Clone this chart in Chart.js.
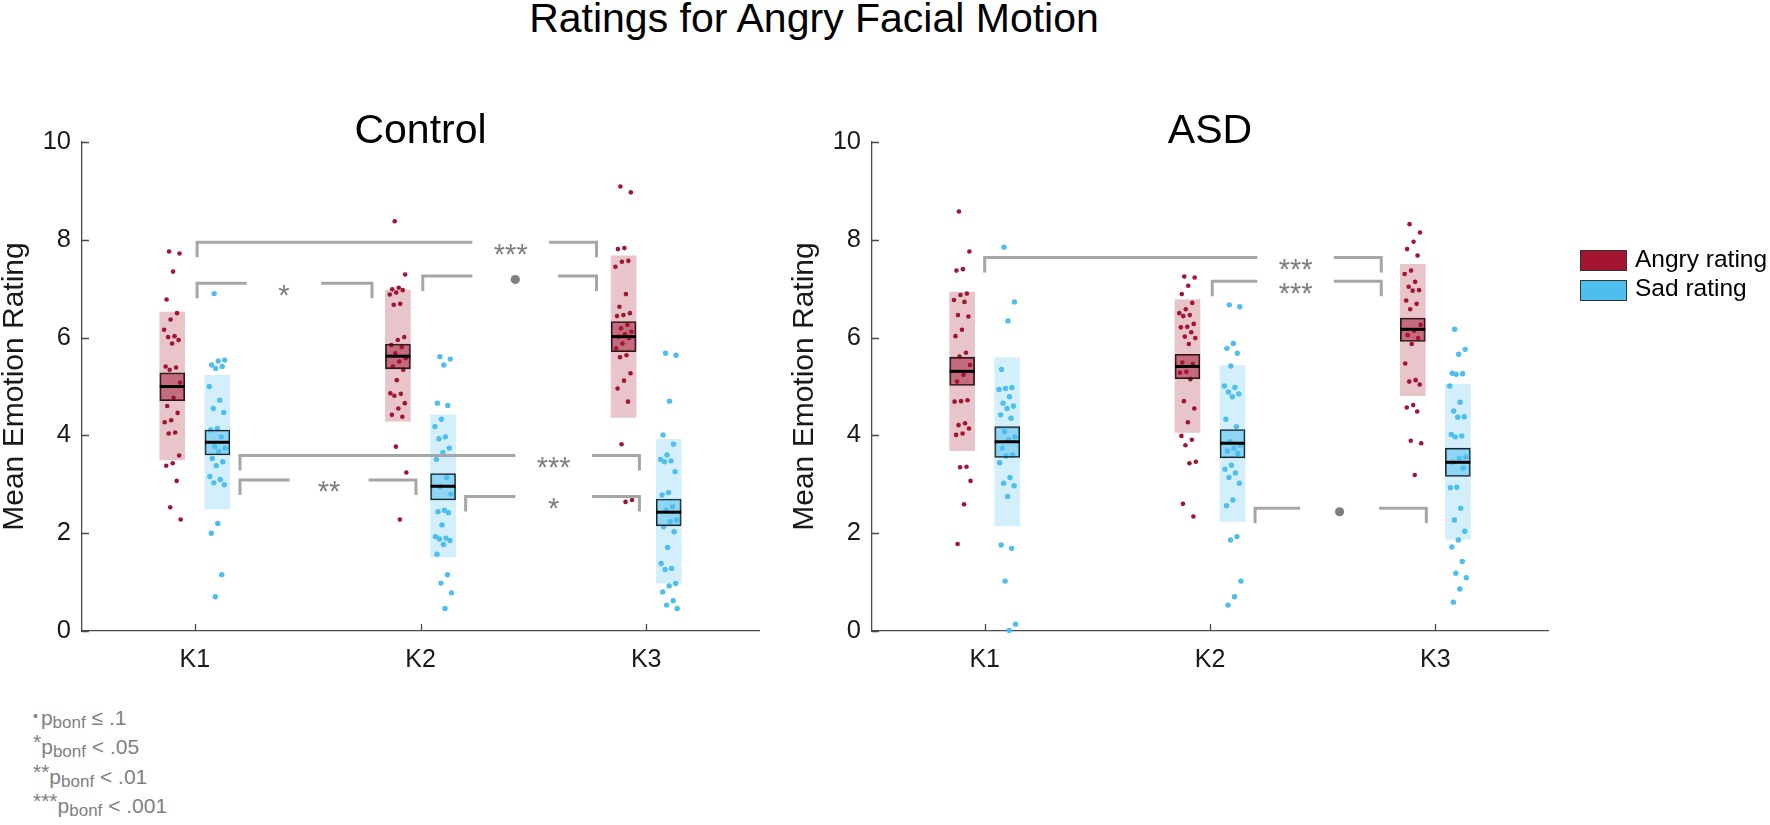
<!DOCTYPE html>
<html>
<head>
<meta charset="utf-8">
<script src="https://cdn.jsdelivr.net/npm/chart.js@4.4.1/dist/chart.umd.min.js"></script>
<style>
html,body{margin:0;padding:0;background:#fff;width:1770px;height:825px;overflow:hidden;font-family:'Liberation Sans',Arial,Helvetica,sans-serif;}
#title{position:absolute;left:0;width:1628px;top:-2px;text-align:center;font-size:41px;line-height:41px;color:#000;white-space:nowrap;}
canvas{position:absolute;top:0;}
#cL{left:0;}
#cR{left:790px;}
.lg{position:absolute;left:1580px;width:45px;height:19px;border:1px solid #333;}
.lgt{position:absolute;left:1635px;font-size:24.5px;line-height:24.5px;color:#000;white-space:nowrap;}
#fn{position:absolute;left:33px;top:703px;font-size:21px;line-height:29.3px;color:#808080;white-space:nowrap;}
#fn sub{font-size:17px;vertical-align:-3px;line-height:0;}
#fn sup{font-size:21px;vertical-align:5px;line-height:0;}
#fn .b{font-size:14px;vertical-align:4px;line-height:0;margin-right:3px;}
</style>
</head>
<body>
<div id="title">Ratings for Angry Facial Motion</div>
<canvas id="cL" width="800" height="700"></canvas>
<canvas id="cR" width="800" height="700"></canvas>

<div class="lg" style="top:250px;background:#A2142F"></div>
<div class="lgt" style="top:247px">Angry rating</div>
<div class="lg" style="top:280px;background:#4DBEEE"></div>
<div class="lgt" style="top:276px">Sad rating</div>

<div id="fn">
<div><span class="b">•</span>p<sub>bonf</sub> ≤ .1</div>
<div><sup>*</sup>p<sub>bonf</sub> &lt; .05</div>
<div><sup>**</sup>p<sub>bonf</sub> &lt; .01</div>
<div><sup>***</sup>p<sub>bonf</sub> &lt; .001</div>
</div>

<script>
// ---------------- data ----------------
const categories = ['K1', 'K2', 'K3'];
const yTicks = [0, 2, 4, 6, 8, 10];
const panelTitles = ['Control', 'ASD'];
const seriesNames = ['Angry rating', 'Sad rating'];

// Control: individual mean ratings per participant
const ctrlAngryK1 = [7.76,7.72,7.35,6.78,6.50,6.37,6.16,6.03,6.01,5.95,5.88,5.41,5.39,5.34,5.08,4.77,4.60,4.46,4.31,4.27,4.06,4.04,3.59,3.43,3.38,3.07,2.53,2.28];
const ctrlAngryK2 = [8.38,7.29,7.02,6.99,6.97,6.92,6.88,6.69,6.67,6.01,5.95,5.85,5.81,5.68,5.58,5.51,5.41,5.34,5.13,4.86,4.85,4.81,4.66,4.55,4.42,4.38,3.77,3.24,2.28];
const ctrlAngryK3 = [9.09,8.97,7.83,7.81,7.57,7.55,7.45,6.89,6.63,6.50,6.46,6.44,6.26,6.19,6.12,6.07,6.02,5.99,5.88,5.78,5.64,5.60,5.27,5.12,4.96,4.69,3.82,2.68,2.64];
const ctrlSadK1 = [6.90,5.54,5.52,5.44,5.41,5.37,5.00,4.72,4.55,4.47,4.14,4.11,3.97,3.77,3.74,3.67,3.53,3.46,3.38,3.16,3.10,3.03,2.99,2.20,2.00,1.15,0.70];
const ctrlSadK2 = [5.61,5.56,5.44,4.66,4.61,4.33,4.18,3.97,3.93,3.74,3.65,3.51,3.14,2.95,2.80,2.47,2.44,2.42,2.17,1.93,1.90,1.88,1.85,1.77,1.57,1.15,0.98,0.78,0.46];
const ctrlSadK3 = [5.68,5.64,4.70,4.01,3.82,3.60,3.51,3.48,3.46,3.26,2.83,2.78,2.54,2.47,2.27,2.24,2.13,2.03,1.71,1.38,1.28,1.26,0.97,0.92,0.80,0.62,0.53,0.46];

// ASD
const asdAngryK1 = [8.58,7.76,7.40,7.37,6.90,6.87,6.77,6.73,6.46,6.43,6.16,6.03,5.69,5.61,5.44,5.24,5.10,4.72,4.70,4.69,4.25,4.21,4.14,4.04,4.01,3.36,3.35,3.07,2.59,1.78];
const asdAngryK2 = [7.25,7.23,7.06,6.89,6.71,6.58,6.50,6.46,6.44,6.28,6.22,6.21,6.11,6.02,5.99,5.87,5.49,5.46,5.30,5.28,5.15,4.70,4.55,4.27,3.99,3.91,3.80,3.46,3.43,2.60,2.34];
const asdAngryK3 = [8.32,8.15,7.96,7.81,7.68,7.37,7.30,7.14,7.04,6.97,6.96,6.76,6.69,6.58,6.26,6.14,6.05,5.99,5.87,5.47,5.13,5.10,5.04,4.62,4.57,4.49,3.89,3.84,3.19];
const asdSadK1 = [7.85,6.73,6.34,5.35,4.98,4.96,4.94,4.79,4.66,4.60,4.55,4.42,4.35,4.08,3.97,3.91,3.74,3.60,3.58,3.44,3.14,3.02,2.97,2.75,1.76,1.69,1.02,0.14,0.01];
const asdSadK2 = [6.67,6.63,5.88,5.78,5.68,5.42,5.01,4.98,4.89,4.85,4.79,4.33,4.18,3.87,3.80,3.74,3.68,3.63,3.39,3.31,3.23,3.14,3.02,2.68,2.56,1.93,1.86,1.02,0.70,0.53];
const asdSadK3 = [6.17,5.76,5.66,5.27,5.26,5.25,5.01,4.68,4.50,4.38,4.37,4.02,3.99,3.97,3.56,3.53,3.45,3.33,2.94,2.93,2.51,2.27,2.04,1.86,1.72,1.42,1.18,1.09,0.86,0.59];

// group summary (mean, SEM range, SD range)
const ctrlAngryMean = [5.00, 5.62, 6.02];
const ctrlAngrySem  = [[4.71, 5.28], [5.36, 5.87], [5.71, 6.33]];
const ctrlAngrySd   = [[3.50, 6.52], [4.29, 6.97], [4.37, 7.67]];
const ctrlSadMean   = [3.86, 2.96, 2.43];
const ctrlSadSem    = [[3.60, 4.11], [2.68, 3.22], [2.15, 2.70]];
const ctrlSadSd     = [[2.49, 5.23], [1.51, 4.42], [0.98, 3.92]];

const asdAngryMean = [5.31, 5.41, 6.17];
const asdAngrySem  = [[5.02, 5.60], [5.16, 5.66], [5.92, 6.40]];
const asdAngrySd   = [[3.69, 6.93], [4.06, 6.78], [4.81, 7.50]];
const asdSadMean   = [3.87, 3.84, 3.45];
const asdSadSem    = [[3.55, 4.18], [3.54, 4.12], [3.16, 3.74]];
const asdSadSd     = [[2.15, 5.59], [2.24, 5.43], [1.88, 5.05]];

// significance brackets: [from, to, level, gapFrom, gapTo, label]
const ctrlBrackets = [
  [1.01, 2.78, 7.95, 2.23, 2.57, '***'],
  [1.01, 1.785, 7.11, 1.23, 1.56, '*'],
  [2.01, 2.78, 7.26, 2.23, 2.61, '•'],
  [1.20, 2.97, 3.59, 2.42, 2.76, '***'],
  [1.20, 1.98, 3.09, 1.42, 1.77, '**'],
  [2.20, 2.97, 2.75, 2.42, 2.76, '*']
];
const asdBrackets = [
  [1.00, 2.76, 7.64, 2.21, 2.55, '***'],
  [2.01, 2.76, 7.15, 2.21, 2.55, '***'],
  [2.20, 2.96, 2.51, 2.40, 2.75, '•']
];

// ---------------- drawing ----------------
const FONT = "'Liberation Sans', Arial, Helvetica, sans-serif";
Chart.defaults.font.family = FONT;
const RED = '#A2142F', BLUE = '#4DBEEE';
const RED_SD = 'rgba(162,20,47,0.25)', BLUE_SD = 'rgba(77,190,238,0.25)';
const RED_SEM = 'rgba(162,20,47,0.5)', BLUE_SEM = 'rgba(77,190,238,0.5)';
const AXIS = '#4a4a4a';
const OFF = 0.1;

function jit(i) { return ((((i * 0.6180339887) + 0.31) % 1) - 0.5) * 0.075; }
function pointsData(groups, sign) {
  const out = [];
  groups.forEach((vals, k) => vals.forEach((v, i) => out.push({ x: k + 1 + sign * OFF + jit(i), y: v })));
  return out;
}
function rangeData(ranges, sign) { return ranges.map((r, k) => ({ x: k + 1 + sign * OFF, y: [r[0], r[1]] })); }
function meanData(means, sign) { return means.map((m, k) => ({ x: k + 1 + sign * OFF, y: m })); }

function decorPlugin(title, brackets) {
  return {
    id: 'decor',
    afterDatasetsDraw(chart) {
      const { ctx, scales: { x, y } } = chart;
      ctx.save();
      ctx.strokeStyle = '#a6a6a6';
      ctx.lineWidth = 3;
      ctx.lineCap = 'butt';
      ctx.lineJoin = 'miter';
      brackets.forEach(b => {
        const x1 = x.getPixelForValue(b[0]), x2 = x.getPixelForValue(b[1]);
        const py = y.getPixelForValue(b[2]);
        const g1 = x.getPixelForValue(b[3]), g2 = x.getPixelForValue(b[4]);
        const drop = 15;
        ctx.beginPath();
        ctx.moveTo(x1, py + drop); ctx.lineTo(x1, py); ctx.lineTo(g1, py);
        ctx.moveTo(g2, py); ctx.lineTo(x2, py); ctx.lineTo(x2, py + drop);
        ctx.stroke();
        const cx = (g1 + g2) / 2;
        ctx.fillStyle = '#7f7f7f';
        if (b[5] === '•') {
          ctx.beginPath(); ctx.arc(cx, py + 3.5, 4.6, 0, Math.PI * 2); ctx.fill();
        } else {
          ctx.font = '29px ' + FONT;
          ctx.textAlign = 'center';
          ctx.textBaseline = 'alphabetic';
          ctx.fillText(b[5], cx, py + 5 + 0.57 * 29);
        }
      });
      ctx.restore();
    },
    afterDraw(chart) {
      const { ctx, chartArea: a, scales: { x, y } } = chart;
      ctx.save();
      ctx.strokeStyle = AXIS;
      ctx.lineWidth = 1.3;
      ctx.beginPath();
      yTicks.forEach(v => { const p = Math.round(y.getPixelForValue(v)) + 0.5; ctx.moveTo(a.left, p); ctx.lineTo(a.left + 7, p); });
      categories.forEach((c, i) => { const p = Math.round(x.getPixelForValue(i + 1)) + 0.5; ctx.moveTo(p, a.bottom); ctx.lineTo(p, a.bottom - 7); });
      ctx.stroke();
      ctx.fillStyle = '#000';
      ctx.font = '41px ' + FONT;
      ctx.textAlign = 'center';
      ctx.textBaseline = 'alphabetic';
      ctx.fillText(title, (a.left + a.right) / 2, a.top + 1);
      ctx.restore();
    }
  };
}

function makePanel(id, title, angry, sad, aMean, aSem, aSd, sMean, sSem, sSd, brackets, padRight) {
  const datasets = [
    { type: 'scatter', label: 'Angry mean', data: meanData(aMean, -1), order: 0, pointStyle: 'line', pointRadius: 12.5, pointBorderWidth: 3, pointBorderColor: '#000', pointBackgroundColor: '#000', clip: false },
    { type: 'scatter', label: 'Sad mean', data: meanData(sMean, 1), order: 0, pointStyle: 'line', pointRadius: 12.5, pointBorderWidth: 3, pointBorderColor: '#000', pointBackgroundColor: '#000', clip: false },
    { type: 'bar', label: 'Angry SEM', data: rangeData(aSem, -1), order: 1, stack: 'all', barThickness: 25, backgroundColor: RED_SEM, borderColor: 'rgba(0,0,0,0.85)', borderWidth: 1.2, borderSkipped: false },
    { type: 'bar', label: 'Sad SEM', data: rangeData(sSem, 1), order: 1, stack: 'all', barThickness: 25, backgroundColor: BLUE_SEM, borderColor: 'rgba(0,0,0,0.85)', borderWidth: 1.2, borderSkipped: false },
    { type: 'scatter', label: seriesNames[0], data: pointsData(angry, -1), order: 2, pointRadius: 2.3, pointBorderWidth: 0, pointBackgroundColor: RED, clip: false },
    { type: 'scatter', label: seriesNames[1], data: pointsData(sad, 1), order: 2, pointRadius: 2.7, pointBorderWidth: 0, pointBackgroundColor: BLUE, clip: false },
    { type: 'bar', label: 'Angry SD', data: rangeData(aSd, -1), order: 3, stack: 'all', barThickness: 25, backgroundColor: RED_SD, borderWidth: 0 },
    { type: 'bar', label: 'Sad SD', data: rangeData(sSd, 1), order: 3, stack: 'all', barThickness: 25, backgroundColor: BLUE_SD, borderWidth: 0 }
  ];
  return new Chart(document.getElementById(id), {
    type: 'scatter',
    data: { datasets },
    plugins: [decorPlugin(title, brackets)],
    options: {
      responsive: false,
      animation: false,
      events: [],
      layout: { padding: { top: 142, left: 0, right: padRight, bottom: 9 } },
      plugins: { legend: { display: false }, tooltip: { enabled: false }, title: { display: false } },
      scales: {
        x: {
          type: 'linear', min: 0.5, max: 3.5, offset: false,
          grid: { display: false, drawTicks: false, tickLength: 0 },
          border: { display: true, color: AXIS, width: 1.3 },
          afterBuildTicks: s => { s.ticks = categories.map((c, i) => ({ value: i + 1 })); },
          afterFit: s => { s.height = 60; },
          ticks: { padding: 14, color: '#1a1a1a', font: { size: 25 }, maxRotation: 0, autoSkip: false,
                   callback: v => categories[Math.round(v) - 1] }
        },
        y: {
          type: 'linear', min: 0, max: 10, stacked: false,
          grid: { display: false, drawTicks: false, tickLength: 0 },
          border: { display: true, color: AXIS, width: 1.3 },
          afterBuildTicks: s => { s.ticks = yTicks.map(v => ({ value: v })); },
          afterFit: s => { s.width = 82; },
          ticks: { padding: 11, color: '#1a1a1a', font: { size: 25.5 }, callback: v => String(v) },
          title: { display: true, text: 'Mean Emotion Rating', color: '#1a1a1a', font: { size: 30, lineHeight: 1 }, padding: { top: 0, bottom: 0 } }
        }
      }
    }
  });
}

makePanel('cL', panelTitles[0],
  [ctrlAngryK1, ctrlAngryK2, ctrlAngryK3], [ctrlSadK1, ctrlSadK2, ctrlSadK3],
  ctrlAngryMean, ctrlAngrySem, ctrlAngrySd, ctrlSadMean, ctrlSadSem, ctrlSadSd, ctrlBrackets, 41);
makePanel('cR', panelTitles[1],
  [asdAngryK1, asdAngryK2, asdAngryK3], [asdSadK1, asdSadK2, asdSadK3],
  asdAngryMean, asdAngrySem, asdAngrySd, asdSadMean, asdSadSem, asdSadSd, asdBrackets, 42);
</script>
</body>
</html>
